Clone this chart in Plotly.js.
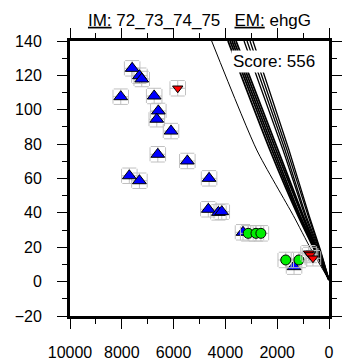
<!DOCTYPE html>
<html>
<head>
<meta charset="utf-8">
<script src="https://cdn.plot.ly/plotly-3.0.1.min.js"></script>
<style>html,body{margin:0;padding:0;background:#fff;}#chart{width:345px;height:360px;}#err{position:absolute;left:0;top:0;font:9px sans-serif;color:#c00;width:340px;}</style>
</head>
<body>
<div id="chart"></div>
<div id="err"></div>
<script>
// ---- data ----
var blueX = [7600, 7320, 7230, 8040, 6750, 6590, 6650, 6100, 6610, 5470, 7710, 7320, 4630, 4660, 4270, 4140, 3320, 1350];
var blueY = [124.1, 119.8, 117.9, 107.6, 108, 99.3, 94.5, 87.6, 74.1, 70.2, 61.6, 58.7, 60.1, 42.1, 40.3, 40.7, 28.7, 8.7];
var greenX = [3120, 2820, 2630, 1670, 1160];
var greenY = [28.1, 28.1, 28.1, 12.6, 12.6];
var redX = [5840, 790, 730, 620];
var redY = [112.5, 16.5, 15.5, 13.6];
var errX = 300;
var errY = 4.5;

// model curves: x values at the given y levels
var curveY = [140, 76.6, 38.5, 19, 1];
var thinCurveX = [4530, 2790, 1380, 700, 0];
var curvesX = [
  [3900, 2280, 1200, 580, 0],
  [3820, 2200, 1160, 540, 0],
  [3745, 2125, 1120, 520, 0],
  [3670, 2045, 1040, 500, 0],
  [3590, 1970, 1000, 465, 0],
  [3280, 1775, 930, 425, 0],
  [3165, 1700, 890, 385, 0],
  [3050, 1620, 810, 365, 0],
  [2935, 1545, 770, 345, 0]
];
var xRange = [10000, 0];
var yRange = [-20, 140];
var xMajorStep = 2000, xMinorStep = 1000;
var yMajorStep = 20, yMinorStep = 10;
var titleText = '<u>IM:</u> 72_73_74_75&nbsp;&nbsp;&nbsp;<u>EM:</u> ehgG';
var scoreText = 'Score: 556';

// ---- traces ----
var traces = [];
traces.push({x: thinCurveX, y: curveY, mode: 'lines', line: {color: '#000', width: 1, shape: 'spline', smoothing: 0.6}, hoverinfo: 'skip'});
curvesX.forEach(function (cx, i) {
  traces.push({x: cx, y: curveY, mode: 'lines', line: {color: '#000', width: i < 5 ? 1.8 : 1.3, shape: 'spline', smoothing: 0.6}, hoverinfo: 'skip'});
});
function errs(n, v) { var a = []; for (var i = 0; i < n; i++) a.push(v); return a; }
function pts(xs, ys, sym, size, color) {
  return {
    x: xs, y: ys, mode: 'markers',
    marker: {symbol: sym, size: size, color: color, line: {color: '#000', width: 1}},
    error_x: {type: 'data', array: errs(xs.length, errX), color: '#c0c0c0', thickness: 1, width: 7},
    error_y: {type: 'data', array: errs(xs.length, errY), color: '#c0c0c0', thickness: 1, width: 7}
  };
}
traces.push(pts(blueX, blueY, 'triangle-up', 12, '#0000ff'));
traces.push(pts(greenX, greenY, 'circle', 10, '#00ee00'));
traces.push(pts(redX, redY, 'triangle-down', 9, '#ff0000'));

var fam = 'Liberation Sans, Arial, sans-serif';
var axisFont = {family: fam, size: 16, color: '#000'};
var layout = {
  width: 345, height: 360,
  margin: {l: 70, r: 16, t: 41, b: 44},
  paper_bgcolor: '#fff', plot_bgcolor: '#fff',
  showlegend: false,
  font: axisFont,
  title: {text: titleText, font: {family: fam, size: 17, color: '#000'}, x: 0.5, xref: 'paper', xanchor: 'center', y: 0.945, yref: 'container', yanchor: 'middle'},
  xaxis: {range: xRange, tickmode: 'linear', tick0: 0, dtick: xMajorStep, tickformat: 'd', ticklabelstandoff: 10,
    showgrid: false, zeroline: false, showline: true, mirror: 'ticks', linewidth: 3, linecolor: '#000',
    ticks: 'outside', ticklen: 10, tickcolor: '#000', tickfont: axisFont,
    minor: {tickmode: 'linear', tick0: 0, dtick: xMinorStep, ticks: 'outside', ticklen: 5, tickcolor: '#000', showgrid: false}},
  yaxis: {range: yRange, tickmode: 'linear', tick0: 0, dtick: yMajorStep, tickformat: 'd', ticklabelstandoff: 12,
    showgrid: false, zeroline: false, showline: true, mirror: 'ticks', linewidth: 3, linecolor: '#000',
    ticks: 'outside', ticklen: 10, tickcolor: '#000', tickfont: axisFont,
    minor: {tickmode: 'linear', tick0: 0, dtick: yMinorStep, ticks: 'outside', ticklen: 5, tickcolor: '#000', showgrid: false}},
  annotations: [{
    text: scoreText, xref: 'paper', yref: 'paper', x: 0.955, y: 0.925, xanchor: 'right', yanchor: 'middle',
    showarrow: false, bgcolor: '#fff', borderpad: 1,
    font: {family: fam, size: 17, color: '#000'}
  }]
};
function showErr(e) { document.getElementById('err').textContent = 'ERR: ' + (e && (e.stack || e.message) || e); }
window.onerror = function (m) { showErr(m); };
window.addEventListener('unhandledrejection', function (ev) { showErr(ev.reason); });
try {
  Plotly.newPlot('chart', traces, layout, {displayModeBar: false}).catch(showErr);
} catch (e) { showErr(e); }
</script>
</body>
</html>
